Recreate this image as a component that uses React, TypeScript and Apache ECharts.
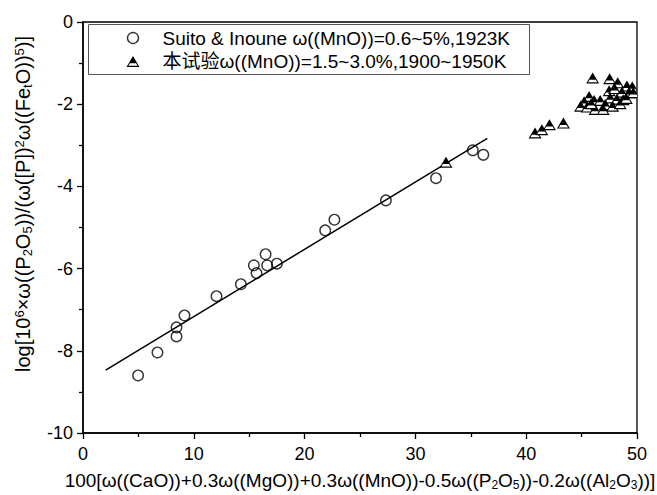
import React, { useEffect, useRef } from 'react';
import * as echarts from 'echarts';

const xTicks = [0, 10, 20, 30, 40, 50];
const yTicks = [-10, -8, -6, -4, -2, 0];

const suitoName = 'Suito & Inoune ω((MnO))=0.6~5%,1923K';
const thisName = '本试验ω((MnO))=1.5~3.0%,1900~1950K';

const suitoX = [4.97, 6.72, 8.44, 8.44, 9.16, 12.05, 14.25, 15.42, 15.66, 16.48, 16.62, 17.5, 21.86, 22.69, 27.34, 31.86, 35.18, 36.13];
const suitoY = [-8.6, -8.04, -7.65, -7.43, -7.14, -6.67, -6.38, -5.92, -6.11, -5.65, -5.92, -5.88, -5.07, -4.81, -4.34, -3.8, -3.12, -3.23];

const thisX = [32.76, 40.8, 41.41, 42.1, 43.36, 46.0, 47.53, 48.26, 49.09, 49.57, 47.49, 47.97, 48.64, 49.3, 45.68, 45.23, 44.91, 45.5, 46.13, 46.68, 47.58, 48.18, 48.75, 47.13, 47.8, 48.48, 46.22, 46.95, 45.86, 49.66, 49.03];
const thisY = [-3.41, -2.7, -2.62, -2.5, -2.46, -1.36, -1.38, -1.48, -1.56, -1.58, -1.67, -1.62, -1.71, -1.72, -1.81, -1.94, -2.05, -2.07, -1.91, -1.91, -1.85, -1.88, -1.89, -2.01, -2.05, -1.99, -2.13, -2.13, -1.99, -1.72, -1.86];

const fitX = [2.05, 36.49];
const fitY = [-8.47, -2.83];

const FONT = '"Liberation Sans", Arial, "Noto Sans CJK SC", sans-serif';

const xTitle = '{n|100[ω((CaO))+0.3ω((MgO))+0.3ω((MnO))-0.5ω((P}{s|2}{n|O}{s|5}{n|))-0.2ω((Al}{s|2}{n|O}{s|3}{n|))]}';
const yTitle = '{n|log[10}{p|6}{n|×ω((P}{s|2}{n|O}{s|5}{n|))/(ω([P])}{p|2}{n|ω((Fe}{s|t}{n|O))}{p|5}{n|)]}';

const richX: any = {
  n: { fontSize: 19, lineHeight: 20, verticalAlign: 'top', fontFamily: FONT, fill: '#000', color: '#000' },
  s: { fontSize: 12, lineHeight: 8, verticalAlign: 'bottom', fontFamily: FONT, fill: '#000', color: '#000' },
  p: { fontSize: 12, lineHeight: 12, verticalAlign: 'top', fontFamily: FONT, fill: '#000', color: '#000' },
};
const richY: any = {
  n: { fontSize: 20, lineHeight: 21, verticalAlign: 'top', fontFamily: FONT, fill: '#000', color: '#000' },
  s: { fontSize: 13, lineHeight: 8.5, verticalAlign: 'bottom', fontFamily: FONT, fill: '#000', color: '#000' },
  p: { fontSize: 13, lineHeight: 13, verticalAlign: 'top', fontFamily: FONT, fill: '#000', color: '#000' },
};

const triIcon = 'path://M6.5,0L13,11L0,11Z M3.39,7.3L1.91,9.8L11.09,9.8L9.61,7.3Z';

export default function App() {
  const ref = useRef<HTMLDivElement>(null);
  useEffect(() => {
    if (!ref.current) return;
    const chart = echarts.init(ref.current, undefined, { renderer: 'svg' });
    const option: any = {
      animation: false,
      backgroundColor: '#fff',
      grid: { left: 83, right: 20, top: 22, bottom: 62, show: true, borderColor: '#000', borderWidth: 1.3, backgroundColor: 'transparent' },
      xAxis: {
        type: 'value',
        min: xTicks[0],
        max: xTicks[xTicks.length - 1],
        interval: 10,
        axisLine: { show: true, onZero: false, lineStyle: { color: '#000', width: 1.5 } },
        axisTick: { show: true, inside: false, length: 6, lineStyle: { color: '#000', width: 1.3 } },
        minorTick: { show: true, splitNumber: 2, length: 4, lineStyle: { color: '#000', width: 1.3 } },
        splitLine: { show: false },
        axisLabel: { color: '#000', fontSize: 18, fontFamily: FONT, margin: 12 },
      },
      yAxis: {
        type: 'value',
        min: yTicks[0],
        max: yTicks[yTicks.length - 1],
        interval: 2,
        axisLine: { show: true, onZero: false, lineStyle: { color: '#000', width: 1.5 } },
        axisTick: { show: true, inside: false, length: 6, lineStyle: { color: '#000', width: 1.3 } },
        minorTick: { show: true, splitNumber: 2, length: 4, lineStyle: { color: '#000', width: 1.3 } },
        splitLine: { show: false },
        axisLabel: { color: '#000', fontSize: 18, fontFamily: FONT, margin: 10 },
      },
      legend: {
        orient: 'vertical',
        left: 126.5,
        top: 28,
        padding: 0,
        itemGap: 3.4,
        itemWidth: 13,
        itemHeight: 11,
        selectedMode: false,
        textStyle: { color: '#000', fontSize: 19, fontFamily: FONT, lineHeight: 20, padding: [0, 0, 0, 18] },
        data: [
          { name: suitoName, icon: 'circle', itemStyle: { color: 'rgba(0,0,0,0)', borderColor: '#000', borderWidth: 1.4 } },
          { name: thisName, icon: triIcon, itemStyle: { color: '#000', borderWidth: 0 } },
        ],
      },
      graphic: [
        {
          type: 'rect',
          z: 0,
          shape: { x: 88.5, y: 24.5, width: 441, height: 50 },
          style: { fill: 'transparent', stroke: '#555', lineWidth: 1 },
        },
        {
          type: 'text',
          x: 360,
          y: 481,
          style: { text: xTitle, rich: richX, align: 'center', verticalAlign: 'middle', fontFamily: FONT, fontSize: 19, fill: '#000' },
        },
        {
          type: 'text',
          x: 23,
          y: 204,
          rotation: Math.PI / 2,
          style: { text: yTitle, rich: richY, align: 'center', verticalAlign: 'middle', fontFamily: FONT, fontSize: 20, fill: '#000' },
        },
      ],
      series: [
        {
          type: 'line',
          name: 'fit',
          data: fitX.map((x, i) => [x, fitY[i]]),
          showSymbol: false,
          symbol: 'none',
          lineStyle: { color: '#000', width: 1.5 },
          z: 2,
        },
        {
          type: 'scatter',
          name: suitoName,
          data: suitoX.map((x, i) => [x, suitoY[i]]),
          symbol: 'circle',
          symbolSize: 10.5,
          itemStyle: { color: 'rgba(0,0,0,0)', borderColor: '#000', borderWidth: 1.4 },
          z: 3,
        },
        {
          type: 'custom',
          name: thisName,
          data: thisX.map((x, i) => [x, thisY[i]]),
          encode: { x: 0, y: 1 },
          clip: true,
          itemStyle: { color: '#000' },
          z: 4,
          renderItem: (params: any, api: any) => {
            const p = api.coord([api.value(0), api.value(1)]);
            const cx = p[0];
            const cy = p[1];
            return {
              type: 'group',
              children: [
                {
                  type: 'polygon',
                  shape: { points: [[cx, cy - 5.5], [cx + 6.5, cy + 5.5], [cx - 6.5, cy + 5.5]] },
                  style: { fill: '#000' },
                },
                {
                  type: 'polygon',
                  shape: { points: [[cx - 3.11, cy + 1.8], [cx + 3.11, cy + 1.8], [cx + 4.59, cy + 4.3], [cx - 4.59, cy + 4.3]] },
                  style: { fill: '#fff' },
                },
              ],
            };
          },
        },
      ],
    };
    chart.setOption(option);
    return () => chart.dispose();
  }, []);
  return <div ref={ref} style={{ position: 'fixed', left: 0, top: 0, width: 657, height: 495 }} />;
}
